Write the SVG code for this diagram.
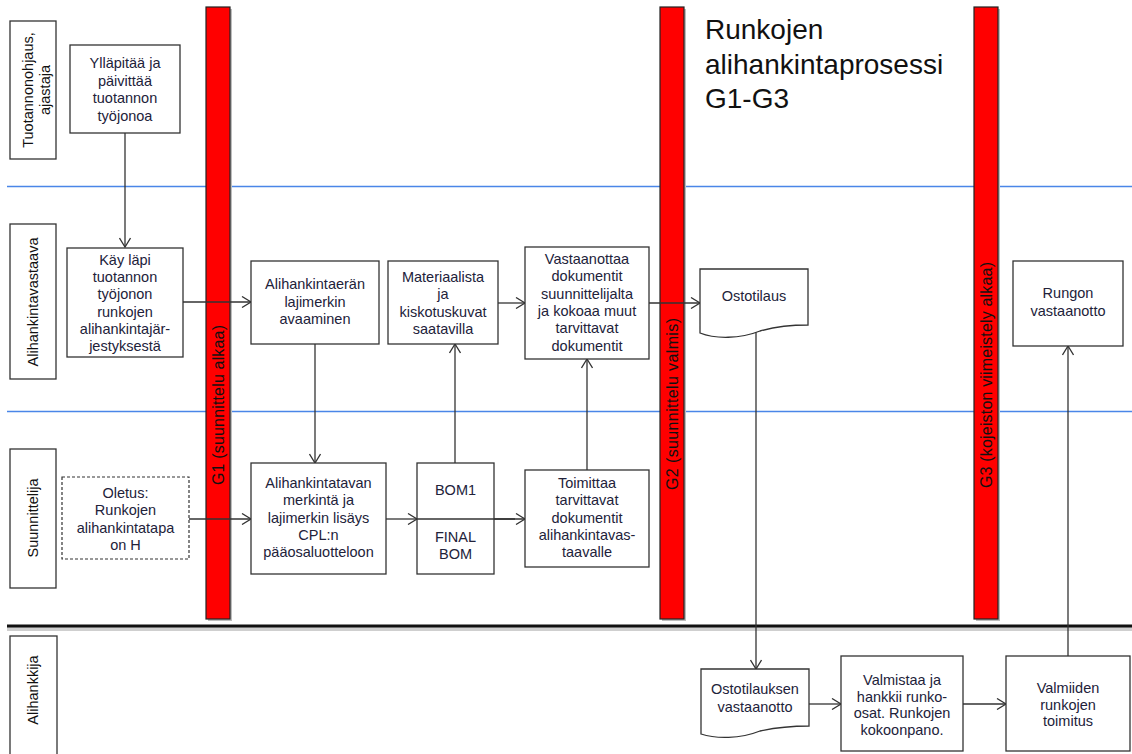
<svg xmlns="http://www.w3.org/2000/svg" width="1132" height="754" viewBox="0 0 1132 754">
<defs>
<style>
.box{fill:#fff;stroke:#333;stroke-width:1.3}
.dash{fill:#fff;stroke:#333;stroke-width:1.2;stroke-dasharray:3,2}
.t{font-family:"Liberation Sans",Arial,sans-serif;font-size:14.5px;fill:#22223a;text-anchor:middle}
.lab{font-family:"Liberation Sans",Arial,sans-serif;font-size:14.5px;fill:#111;text-anchor:middle}
.gl{font-family:"Liberation Sans",Arial,sans-serif;font-size:16px;fill:#111;text-anchor:middle}
.bar{fill:#ff0000;stroke:#222;stroke-width:1.2}
.barsh{fill:#bdbdbd}
.lane{stroke:#4a86e8;stroke-width:1.5}
.c{fill:none;stroke:#333;stroke-width:1.3}
.title{font-family:"Liberation Sans",Arial,sans-serif;font-size:28px;fill:#111}
</style>
<marker id="arr" markerWidth="12" markerHeight="12" refX="10" refY="6" orient="auto" markerUnits="userSpaceOnUse">
<path d="M1,0.5 L10,6 L1,11.5" fill="none" stroke="#333" stroke-width="1.3"/>
</marker>
</defs>
<rect width="1132" height="754" fill="#fff"/>

<g id="lanes">
<line class="lane" x1="7" y1="186.5" x2="1132" y2="186.5"/>
<line class="lane" x1="7" y1="411.5" x2="1132" y2="411.5"/>
<rect x="7" y="627" width="1125" height="4" fill="#cfcfcf"/>
<line x1="7" y1="626" x2="1132" y2="626" stroke="#111" stroke-width="3"/>
</g>

<g id="lane-labels">
<g id="lane-tuotannonohjaus">
<rect class="box" x="10" y="21" width="46" height="138"/>
<text class="lab" transform="translate(33,90) rotate(-90)"><tspan x="0" y="0">Tuotannonohjaus,</tspan><tspan x="0" y="17">ajastaja</tspan></text>
</g>
<g id="lane-alihankintavastaava">
<rect class="box" x="10" y="224" width="46" height="155"/>
<text class="lab" transform="translate(33,302) rotate(-90)" y="5">Alihankintavastaava</text>
</g>
<g id="lane-suunnittelija">
<rect class="box" x="10" y="449" width="46" height="139"/>
<text class="lab" transform="translate(33,518) rotate(-90)" y="5">Suunnittelija</text>
</g>
<g id="lane-alihankkija">
<rect class="box" x="10" y="636" width="47" height="125"/>
<text class="lab" transform="translate(33,690) rotate(-90)" y="5">Alihankkija</text>
</g>
</g>

<g id="gates">
<g id="G1">
<rect class="barsh" x="208" y="9" width="24" height="612"/>
<rect class="bar" x="206" y="7" width="24" height="612"/>
<text class="gl" transform="translate(218,405) rotate(-90)" y="6" textLength="160" lengthAdjust="spacing">G1 (suunnittelu alkaa)</text>
</g>
<g id="G2">
<rect class="barsh" x="662" y="9" width="24" height="612"/>
<rect class="bar" x="660" y="7" width="24" height="612"/>
<text class="gl" transform="translate(672,404) rotate(-90)" y="6" textLength="172" lengthAdjust="spacing">G2 (suunnittelu valmis)</text>
</g>
<g id="G3">
<rect class="barsh" x="976" y="9" width="24" height="612"/>
<rect class="bar" x="974" y="7" width="24" height="612"/>
<text class="gl" transform="translate(986,375) rotate(-90)" y="6" textLength="226" lengthAdjust="spacing">G3 (kojeiston viimeistely alkaa)</text>
</g>
</g>

<g id="title">
<text class="title" x="705" y="39">Runkojen</text>
<text class="title" x="705" y="74">alihankintaprosessi</text>
<text class="title" x="705" y="108">G1-G3</text>
</g>

<g id="connectors">
<line class="c" x1="125" y1="133" x2="125" y2="247" marker-end="url(#arr)"/>
<line class="c" x1="183" y1="302" x2="251" y2="302" marker-end="url(#arr)"/>
<line class="c" x1="315" y1="344" x2="315" y2="463" marker-end="url(#arr)"/>
<line class="c" x1="189" y1="519" x2="251" y2="519" marker-end="url(#arr)"/>
<line class="c" x1="386" y1="519" x2="417" y2="519" marker-end="url(#arr)"/>
<line class="c" x1="417" y1="519" x2="525" y2="519" marker-end="url(#arr)"/>
<line class="c" x1="455" y1="463" x2="455" y2="344" marker-end="url(#arr)"/>
<line class="c" x1="498" y1="303" x2="525" y2="303" marker-end="url(#arr)"/>
<line class="c" x1="587" y1="470" x2="587" y2="359" marker-end="url(#arr)"/>
<line class="c" x1="649" y1="303" x2="700" y2="303" marker-end="url(#arr)"/>
<line class="c" x1="756" y1="332" x2="756" y2="669" marker-end="url(#arr)"/>
<line class="c" x1="809" y1="704" x2="841" y2="704" marker-end="url(#arr)"/>
<line class="c" x1="963" y1="704" x2="1006" y2="704" marker-end="url(#arr)"/>
<line class="c" x1="1068" y1="656" x2="1068" y2="346" marker-end="url(#arr)"/>
</g>

<g id="n-yllapitaa">
<rect class="box" x="70" y="45" width="110" height="88"/>
<text class="t"><tspan x="125" y="68">Ylläpitää ja</tspan><tspan x="125" y="85.5">päivittää</tspan><tspan x="125" y="103">tuotannon</tspan><tspan x="125" y="120.5">työjonoa</tspan></text>
</g>
<g id="n-kay-lapi">
<rect class="box" x="67" y="248" width="116" height="109"/>
<text class="t"><tspan x="125" y="265">Käy läpi</tspan><tspan x="125" y="282.2">tuotannon</tspan><tspan x="125" y="299.4">työjonon</tspan><tspan x="125" y="316.6">runkojen</tspan><tspan x="125" y="333.8">alihankintajär-</tspan><tspan x="125" y="351">jestyksestä</tspan></text>
</g>
<g id="n-avaaminen">
<rect class="box" x="251" y="261" width="128" height="83"/>
<text class="t"><tspan x="315" y="289">Alihankintaerän</tspan><tspan x="315" y="306.5">lajimerkin</tspan><tspan x="315" y="324">avaaminen</tspan></text>
</g>
<g id="n-materiaalista">
<rect class="box" x="388" y="261" width="110" height="83"/>
<text class="t"><tspan x="443" y="282">Materiaalista</tspan><tspan x="443" y="299.3">ja</tspan><tspan x="443" y="316.6">kiskotuskuvat</tspan><tspan x="443" y="334">saatavilla</tspan></text>
</g>
<g id="n-vastaanottaa">
<rect class="box" x="525" y="247" width="124" height="112"/>
<text class="t"><tspan x="587" y="264">Vastaanottaa</tspan><tspan x="587" y="281.3">dokumentit</tspan><tspan x="587" y="298.6">suunnittelijalta</tspan><tspan x="587" y="315.9">ja kokoaa muut</tspan><tspan x="587" y="333.2">tarvittavat</tspan><tspan x="587" y="350.5">dokumentit</tspan></text>
</g>
<g id="n-ostotilaus">
<path class="box" d="M700,269 H808 V325 C795,325 778,326 760,331 C740,339 715,339 700,333 Z"/>
<text class="t" x="754" y="301">Ostotilaus</text>
</g>
<g id="n-rungon">
<rect class="box" x="1013" y="261" width="110" height="85"/>
<text class="t"><tspan x="1068" y="298">Rungon</tspan><tspan x="1068" y="316">vastaanotto</tspan></text>
</g>
<g id="n-oletus">
<rect class="dash" x="62" y="477" width="127" height="82"/>
<text class="t"><tspan x="125.5" y="498">Oletus:</tspan><tspan x="125.5" y="515.3">Runkojen</tspan><tspan x="125.5" y="532.6">alihankintatapa</tspan><tspan x="125.5" y="550">on H</tspan></text>
</g>
<g id="n-merkinta">
<rect class="box" x="251" y="463" width="135" height="111"/>
<text class="t"><tspan x="318.5" y="488">Alihankintatavan</tspan><tspan x="318.5" y="505.3">merkintä ja</tspan><tspan x="318.5" y="522.6">lajimerkin lisäys</tspan><tspan x="318.5" y="539.9">CPL:n</tspan><tspan x="318.5" y="557.2">pääosaluotteloon</tspan></text>
</g>
<g id="n-bom">
<rect class="box" x="417" y="463" width="77" height="111"/>
<text class="t"><tspan x="455.5" y="495">BOM1</tspan><tspan x="455.5" y="542">FINAL</tspan><tspan x="455.5" y="559">BOM</tspan></text>
</g>
<line class="c" x1="417" y1="519" x2="515" y2="519"/>
<g id="n-toimittaa">
<rect class="box" x="525" y="470" width="124" height="97"/>
<text class="t"><tspan x="587" y="488">Toimittaa</tspan><tspan x="587" y="505.3">tarvittavat</tspan><tspan x="587" y="522.6">dokumentit</tspan><tspan x="587" y="539.9">alihankintavas-</tspan><tspan x="587" y="557.2">taavalle</tspan></text>
</g>
<g id="n-ostotilauksen-vastaanotto">
<path class="box" d="M701,669 H809 V726 C795,726 778,727 760,731 C740,739 716,739 701,734 Z"/>
<text class="t"><tspan x="755" y="694">Ostotilauksen</tspan><tspan x="755" y="712">vastaanotto</tspan></text>
</g>
<g id="n-valmistaa">
<rect class="box" x="841" y="656" width="122" height="95"/>
<text class="t"><tspan x="902" y="685">Valmistaa ja</tspan><tspan x="902" y="701.7">hankkii runko-</tspan><tspan x="902" y="718.4">osat. Runkojen</tspan><tspan x="902" y="735">kokoonpano.</tspan></text>
</g>
<g id="n-valmiiden">
<rect class="box" x="1006" y="656" width="124" height="95"/>
<text class="t"><tspan x="1068" y="693">Valmiiden</tspan><tspan x="1068" y="710">runkojen</tspan><tspan x="1068" y="726">toimitus</tspan></text>
</g>
</svg>
